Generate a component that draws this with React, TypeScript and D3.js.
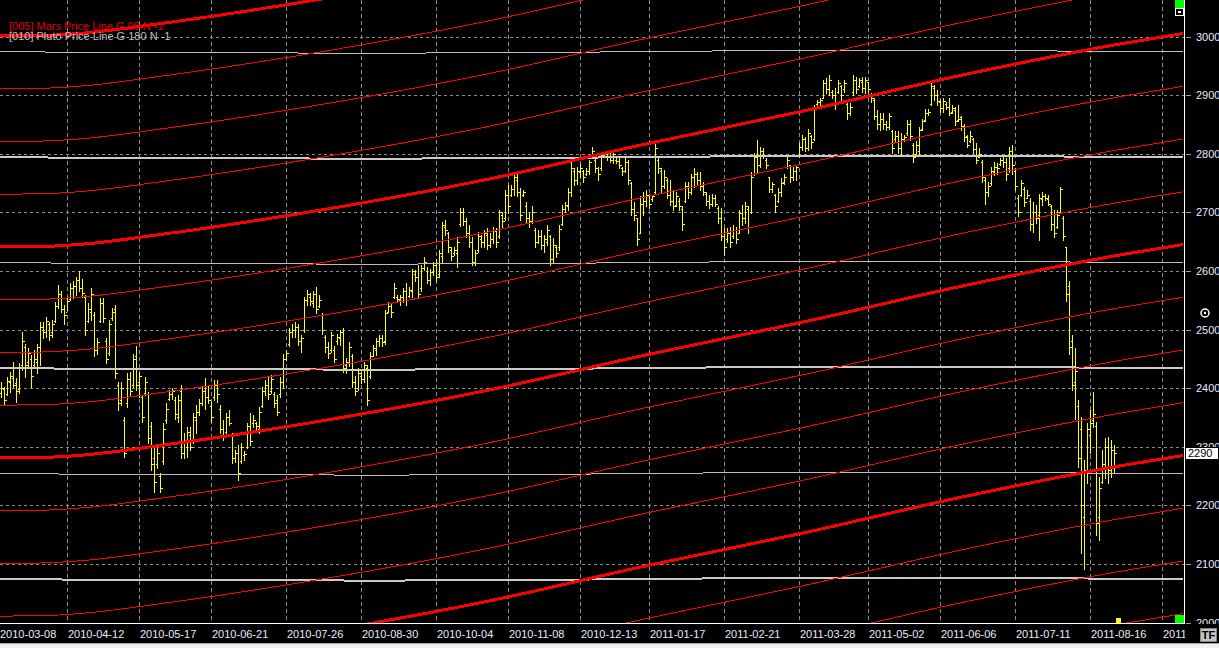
import * as d3 from 'd3'

// bar data, one value per trading day, starting at bar index FIRST_BAR
const FIRST_BAR = 2

const HIGH = [
  2411, 2402, 2419, 2428, 2445, 2417, 2442, 2496, 2476, 2468,
  2456, 2465, 2476, 2513, 2513, 2522, 2513, 2516, 2547, 2576,
  2565, 2542, 2553, 2579, 2582, 2590, 2599, 2587, 2559, 2545,
  2570, 2530, 2485, 2553, 2553, 2485, 2516, 2536, 2542, 2411,
  2411, 2351, 2425, 2428, 2459, 2471, 2428, 2388, 2419, 2394,
  2343, 2297, 2297, 2255, 2340, 2374, 2397, 2400, 2385, 2388,
  2405, 2323, 2334, 2334, 2357, 2371, 2382, 2402, 2417, 2405,
  2377, 2414, 2414, 2371, 2346, 2357, 2363, 2323, 2294, 2303,
  2306, 2292, 2340, 2357, 2354, 2343, 2368, 2402, 2414, 2419,
  2422, 2394, 2388, 2419, 2459, 2465, 2502, 2510, 2513, 2510,
  2491, 2556, 2567, 2562, 2565, 2573, 2559, 2528, 2491, 2479,
  2496, 2471, 2493, 2499, 2502, 2451, 2479, 2459, 2420, 2434,
  2428, 2445, 2439, 2462, 2474, 2485, 2491, 2491, 2533, 2547,
  2545, 2579, 2559, 2559, 2570, 2579, 2573, 2604, 2602, 2610,
  2610, 2624, 2607, 2604, 2616, 2621, 2636, 2684, 2687, 2667,
  2641, 2641, 2658, 2707, 2707, 2690, 2678, 2658, 2636, 2667,
  2661, 2670, 2673, 2664, 2675, 2673, 2704, 2701, 2738, 2746,
  2746, 2766, 2766, 2741, 2738, 2718, 2698, 2710, 2673, 2670,
  2670, 2661, 2678, 2661, 2656, 2644, 2678, 2712, 2718, 2741,
  2786, 2775, 2778, 2783, 2772, 2775, 2789, 2812, 2792, 2778,
  2803, 2803, 2803, 2801, 2806, 2792, 2795, 2778, 2792, 2789,
  2752, 2718, 2690, 2727, 2735, 2738, 2732, 2729, 2821, 2792,
  2775, 2772, 2758, 2755, 2738, 2735, 2724, 2710, 2752, 2752,
  2766, 2775, 2769, 2769, 2752, 2735, 2729, 2732, 2729, 2710,
  2707, 2673, 2673, 2675, 2678, 2675, 2704, 2712, 2718, 2710,
  2769, 2801, 2823, 2812, 2809, 2792, 2761, 2752, 2732, 2741,
  2758, 2766, 2795, 2781, 2778, 2781, 2818, 2832, 2829, 2843,
  2832, 2883, 2892, 2895, 2926, 2929, 2934, 2909, 2912, 2926,
  2917, 2926, 2889, 2886, 2934, 2931, 2929, 2931, 2931, 2923,
  2903, 2895, 2875, 2869, 2869, 2855, 2869, 2840, 2838, 2838,
  2835, 2832, 2858, 2858, 2818, 2821, 2846, 2860, 2877, 2877,
  2920, 2917, 2909, 2892, 2895, 2889, 2895, 2883, 2880, 2883,
  2865, 2850, 2832, 2838, 2826, 2818, 2809, 2789, 2761, 2752,
  2778, 2786, 2784, 2792, 2795, 2792, 2812, 2815, 2775, 2730,
  2755, 2744, 2738, 2724, 2718, 2712, 2732, 2735, 2732, 2729,
  2712, 2704, 2704, 2744, 2693, 2641, 2582, 2491, 2468, 2380,
  2351, 2277, 2340, 2362, 2394, 2343, 2249, 2294, 2314, 2317,
  2311, 2303,
]

const LOW = [
  2385, 2371, 2388, 2394, 2402, 2377, 2391, 2431, 2419, 2434,
  2402, 2437, 2425, 2439, 2485, 2488, 2482, 2488, 2513, 2536,
  2530, 2510, 2533, 2550, 2553, 2559, 2565, 2556, 2491, 2513,
  2516, 2454, 2459, 2513, 2513, 2442, 2456, 2516, 2417, 2363,
  2371, 2283, 2368, 2388, 2402, 2397, 2385, 2343, 2388, 2306,
  2260, 2223, 2263, 2223, 2271, 2340, 2380, 2382, 2348, 2343,
  2280, 2280, 2283, 2294, 2306, 2323, 2354, 2371, 2365, 2374,
  2343, 2380, 2377, 2323, 2311, 2323, 2337, 2272, 2274, 2243,
  2272, 2277, 2297, 2303, 2334, 2328, 2323, 2368, 2388, 2382,
  2391, 2368, 2354, 2385, 2400, 2448, 2471, 2488, 2488, 2474,
  2462, 2496, 2542, 2542, 2539, 2528, 2539, 2493, 2462, 2451,
  2462, 2445, 2476, 2474, 2428, 2425, 2437, 2402, 2388, 2397,
  2408, 2411, 2371, 2417, 2454, 2457, 2471, 2471, 2476, 2530,
  2522, 2553, 2547, 2542, 2547, 2542, 2556, 2556, 2582, 2553,
  2565, 2602, 2579, 2576, 2593, 2582, 2590, 2616, 2661, 2633,
  2619, 2627, 2607, 2676, 2678, 2658, 2641, 2610, 2610, 2633,
  2640, 2641, 2638, 2641, 2647, 2641, 2656, 2675, 2687, 2698,
  2727, 2729, 2727, 2687, 2727, 2684, 2675, 2681, 2641, 2647,
  2638, 2633, 2644, 2610, 2616, 2624, 2636, 2678, 2701, 2704,
  2727, 2746, 2749, 2761, 2752, 2764, 2766, 2792, 2769, 2755,
  2772, 2795, 2789, 2786, 2784, 2784, 2775, 2764, 2769, 2749,
  2695, 2687, 2644, 2664, 2695, 2710, 2707, 2720, 2732, 2767,
  2735, 2741, 2724, 2712, 2704, 2710, 2704, 2670, 2718, 2724,
  2732, 2744, 2749, 2738, 2729, 2712, 2707, 2710, 2710, 2681,
  2653, 2627, 2650, 2641, 2656, 2647, 2664, 2678, 2681, 2664,
  2698, 2764, 2769, 2778, 2792, 2775, 2735, 2735, 2701, 2718,
  2727, 2749, 2775, 2752, 2755, 2755, 2795, 2806, 2804, 2806,
  2809, 2823, 2883, 2883, 2895, 2903, 2900, 2895, 2877, 2903,
  2892, 2906, 2860, 2866, 2900, 2903, 2914, 2906, 2903, 2906,
  2889, 2860, 2843, 2840, 2843, 2840, 2843, 2801, 2821, 2801,
  2798, 2821, 2832, 2823, 2786, 2798, 2798, 2840, 2855, 2866,
  2883, 2892, 2883, 2872, 2872, 2877, 2866, 2869, 2849, 2855,
  2840, 2822, 2812, 2820, 2801, 2784, 2795, 2752, 2715, 2727,
  2747, 2764, 2766, 2781, 2778, 2755, 2769, 2766, 2738, 2693,
  2727, 2710, 2724, 2670, 2667, 2681, 2653, 2712, 2721, 2712,
  2670, 2658, 2673, 2698, 2653, 2548, 2459, 2397, 2348, 2266,
  2118, 2092, 2238, 2289, 2334, 2149, 2141, 2238, 2246, 2238,
  2249, 2257,
]

const OPEN = [
  2392, 2398, 2390, 2410, 2418, 2408, 2398, 2440, 2470, 2445,
  2450, 2440, 2445, 2470, 2500, 2495, 2510, 2495, 2515, 2540,
  2560, 2535, 2530, 2552, 2570, 2575, 2585, 2570, 2555, 2515,
  2530, 2525, 2465, 2515, 2545, 2480, 2460, 2520, 2535, 2405,
  2380, 2345, 2375, 2415, 2405, 2455, 2410, 2385, 2392, 2390,
  2335, 2280, 2270, 2250, 2275, 2345, 2382, 2390, 2380, 2350,
  2395, 2290, 2300, 2320, 2310, 2345, 2360, 2375, 2395, 2385,
  2370, 2385, 2405, 2365, 2330, 2325, 2350, 2320, 2280, 2290,
  2275, 2285, 2300, 2335, 2340, 2340, 2330, 2370, 2395, 2405,
  2395, 2390, 2380, 2390, 2410, 2450, 2475, 2495, 2500, 2505,
  2480, 2500, 2550, 2555, 2545, 2560, 2540, 2525, 2488, 2470,
  2465, 2465, 2480, 2485, 2495, 2440, 2445, 2455, 2410, 2400,
  2420, 2415, 2435, 2420, 2455, 2465, 2480, 2485, 2480, 2530,
  2540, 2555, 2555, 2550, 2555, 2565, 2558, 2565, 2595, 2590,
  2570, 2605, 2600, 2585, 2598, 2610, 2595, 2625, 2675, 2665,
  2635, 2630, 2630, 2680, 2700, 2685, 2665, 2650, 2615, 2635,
  2655, 2650, 2662, 2645, 2655, 2668, 2660, 2695, 2690, 2730,
  2730, 2740, 2755, 2735, 2730, 2710, 2690, 2685, 2670, 2650,
  2660, 2645, 2650, 2660, 2620, 2640, 2640, 2680, 2705, 2710,
  2735, 2770, 2755, 2768, 2770, 2765, 2770, 2795, 2790, 2775,
  2775, 2798, 2800, 2795, 2790, 2790, 2788, 2775, 2770, 2785,
  2750, 2705, 2690, 2665, 2715, 2720, 2728, 2722, 2735, 2790,
  2770, 2745, 2755, 2730, 2720, 2712, 2720, 2705, 2720, 2745,
  2735, 2760, 2765, 2755, 2745, 2732, 2720, 2715, 2725, 2708,
  2690, 2660, 2655, 2665, 2660, 2670, 2665, 2698, 2690, 2705,
  2700, 2765, 2795, 2780, 2805, 2790, 2760, 2740, 2730, 2720,
  2735, 2752, 2778, 2780, 2760, 2770, 2798, 2812, 2825, 2810,
  2830, 2825, 2885, 2888, 2895, 2920, 2910, 2905, 2900, 2905,
  2915, 2910, 2885, 2870, 2905, 2925, 2915, 2922, 2912, 2922,
  2900, 2892, 2865, 2850, 2860, 2850, 2845, 2838, 2825, 2830,
  2810, 2825, 2835, 2850, 2815, 2800, 2805, 2842, 2858, 2870,
  2885, 2912, 2900, 2888, 2878, 2885, 2880, 2872, 2875, 2858,
  2862, 2845, 2830, 2822, 2825, 2808, 2795, 2785, 2755, 2735,
  2750, 2768, 2778, 2782, 2790, 2785, 2775, 2805, 2770, 2725,
  2730, 2740, 2725, 2720, 2680, 2700, 2695, 2722, 2728, 2722,
  2710, 2680, 2675, 2700, 2690, 2640, 2575, 2480, 2410, 2370,
  2330, 2180, 2255, 2320, 2345, 2335, 2180, 2240, 2270, 2300,
  2260, 2295,
]

const CLOSE = [
  2400, 2380, 2412, 2420, 2405, 2395, 2436, 2480, 2440, 2460,
  2420, 2450, 2470, 2505, 2495, 2515, 2490, 2510, 2540, 2560,
  2535, 2525, 2548, 2570, 2575, 2585, 2570, 2562, 2500, 2535,
  2560, 2465, 2478, 2545, 2520, 2450, 2510, 2530, 2425, 2375,
  2400, 2290, 2415, 2395, 2450, 2405, 2420, 2350, 2410, 2315,
  2270, 2240, 2290, 2230, 2330, 2365, 2390, 2395, 2355, 2380,
  2290, 2310, 2325, 2300, 2350, 2360, 2375, 2395, 2385, 2380,
  2350, 2405, 2390, 2330, 2320, 2350, 2340, 2280, 2290, 2255,
  2300, 2288, 2335, 2310, 2345, 2335, 2360, 2395, 2405, 2390,
  2415, 2375, 2360, 2410, 2450, 2460, 2495, 2500, 2505, 2480,
  2485, 2550, 2560, 2548, 2560, 2535, 2550, 2500, 2470, 2460,
  2490, 2450, 2488, 2495, 2435, 2445, 2470, 2410, 2395, 2425,
  2415, 2440, 2380, 2455, 2468, 2480, 2485, 2478, 2528, 2540,
  2530, 2570, 2552, 2555, 2565, 2550, 2568, 2600, 2590, 2560,
  2605, 2615, 2585, 2598, 2610, 2590, 2630, 2678, 2670, 2640,
  2625, 2635, 2650, 2700, 2685, 2665, 2650, 2615, 2630, 2660,
  2650, 2665, 2645, 2655, 2670, 2650, 2700, 2685, 2730, 2710,
  2740, 2760, 2735, 2695, 2735, 2690, 2685, 2700, 2650, 2660,
  2645, 2655, 2670, 2620, 2645, 2630, 2672, 2705, 2712, 2735,
  2775, 2755, 2770, 2775, 2760, 2770, 2785, 2805, 2775, 2765,
  2798, 2800, 2795, 2790, 2800, 2788, 2780, 2770, 2785, 2755,
  2705, 2695, 2655, 2715, 2720, 2730, 2715, 2727, 2810, 2775,
  2745, 2760, 2730, 2720, 2710, 2728, 2710, 2680, 2745, 2735,
  2760, 2765, 2755, 2745, 2735, 2720, 2715, 2725, 2715, 2690,
  2660, 2640, 2665, 2650, 2670, 2655, 2698, 2690, 2710, 2675,
  2760, 2795, 2780, 2805, 2798, 2780, 2740, 2748, 2710, 2735,
  2750, 2760, 2790, 2760, 2770, 2778, 2812, 2825, 2810, 2835,
  2820, 2878, 2888, 2892, 2920, 2910, 2925, 2900, 2885, 2920,
  2900, 2920, 2870, 2880, 2925, 2910, 2925, 2912, 2925, 2910,
  2895, 2865, 2850, 2860, 2850, 2845, 2865, 2810, 2830, 2810,
  2825, 2828, 2850, 2830, 2795, 2815, 2840, 2855, 2870, 2872,
  2915, 2900, 2890, 2878, 2890, 2880, 2870, 2878, 2855, 2860,
  2848, 2828, 2815, 2830, 2808, 2790, 2800, 2760, 2735, 2745,
  2770, 2778, 2775, 2790, 2785, 2765, 2805, 2780, 2745, 2700,
  2750, 2718, 2730, 2680, 2700, 2690, 2725, 2728, 2725, 2715,
  2680, 2665, 2695, 2740, 2660, 2560, 2470, 2405, 2430, 2280,
  2200, 2260, 2330, 2340, 2355, 2170, 2230, 2270, 2300, 2260,
  2295, 2290,
]

const LAST_PRICE = 2290

// date axis: labels and the bar index each gridline sits on
const TICK_LABELS = [
  '2010-03-08', '2010-04-12', '2010-05-17', '2010-06-21', '2010-07-26', '2010-08-30',
  '2010-10-04', '2010-11-08', '2010-12-13', '2011-01-17', '2011-02-21', '2011-03-28',
  '2011-05-02', '2011-06-06', '2011-07-11', '2011-08-16', '2011-',
]
const TICK_IDX = [0, 24, 48, 72, 97, 122, 147, 171, 195, 218, 243, 268, 291, 315, 340, 365, 389]

const PRICE_TICKS = [2000, 2100, 2200, 2300, 2400, 2500, 2600, 2700, 2800, 2900, 3000]

// Mars price line (base harmonic), read at a few bar indices
const MARS_IDX = [0, 15, 30, 55, 110, 163, 217, 270, 323, 377, 396]
const MARS_PRICE = [2640.8, 2641.5, 2646, 2662, 2705, 2755, 2816.6, 2873.4, 2934.8, 2989, 3005]
const MARS_STEP = 90
const MARS_HARMONICS = [-11, -10, -9, -8, -7, -6, -5, -4, -3, -2, -1, 0, 1, 2, 3, 4]

// Pluto price line (base harmonic)
const PLUTO_IDX = [0, 60, 130, 190, 245, 280, 340, 396]
const PLUTO_PRICE = [2974, 2972.3, 2971.5, 2973, 2975.5, 2976.3, 2975.5, 2974.5]
const PLUTO_STEP = 180
const PLUTO_HARMONICS = [0, -1, -2, -3, -4, -5]

const FONT = '"Liberation Sans", Arial, sans-serif'

export default function App() {
  const W = 1219
  const H = 648
  const plotR = 1184
  const plotB = 623

  const x = d3.scaleLinear().domain([0, 389]).range([-5, 1162])
  const y = d3.scaleLinear().domain([2000, 3000]).range([622.5, 36.5])

  const mkLine = (idx: number[]) =>
    d3.line<number>()
      .x((_, j) => x(idx[j]))
      .y((p) => y(p))
      .curve(d3.curveMonotoneX)

  const marsLine = mkLine(MARS_IDX)
  const plutoLine = mkLine(PLUTO_IDX)

  const bars = HIGH.map((h, j) => {
    const i = j + FIRST_BAR
    const cx = Math.round(x(i))
    const top = Math.round(y(h))
    const bot = Math.round(y(LOW[j]))
    return (
      <g key={i}>
        <rect x={cx} y={top} width={1} height={Math.max(1, bot - top + 1)} />
        <rect x={cx - 1} y={Math.round(y(OPEN[j]))} width={1} height={1} />
        <rect x={cx + 1} y={Math.round(y(CLOSE[j]))} width={2} height={1} />
      </g>
    )
  })

  const lastY = y(LAST_PRICE)

  return (
    <svg
      width={W}
      height={H}
      style={{ position: 'fixed', left: 0, top: 0, display: 'block', background: '#000' }}
    >
      <defs>
        <clipPath id="plot">
          <rect x={0} y={0} width={plotR} height={plotB} />
        </clipPath>
      </defs>
      <rect x={0} y={0} width={W} height={H} fill="#000" />

      <g clipPath="url(#plot)" shapeRendering="crispEdges">
        {/* grid */}
        {PRICE_TICKS.map((p) => (
          <line key={p} x1={0} x2={plotR} y1={Math.round(y(p)) + 0.5} y2={Math.round(y(p)) + 0.5}
            stroke="#8a8a8a" strokeDasharray="3,3" />
        ))}
        {TICK_IDX.map((i) => (
          <line key={i} x1={Math.round(x(i)) + 0.5} x2={Math.round(x(i)) + 0.5} y1={0} y2={plotB}
            stroke="#8a8a8a" strokeDasharray="4,3" />
        ))}

        {/* price bars */}
        <g fill="#ffff00">{bars}</g>

        {/* Pluto lines */}
        {PLUTO_HARMONICS.map((k) => (
          <path key={k} d={plutoLine(PLUTO_PRICE.map((p) => p + k * PLUTO_STEP)) || ''}
            fill="none" stroke={k % 2 === 0 ? '#bdbdbd' : '#cacaca'} strokeWidth={k % 2 === 0 ? 1 : 2} />
        ))}

        {/* Mars lines */}
        {MARS_HARMONICS.map((k) => (
          <path key={k} d={marsLine(MARS_PRICE.map((p) => p + k * MARS_STEP)) || ''}
            fill="none" stroke="#ff0000" strokeWidth={k % 4 === 0 ? 3 : 1} />
        ))}
      </g>

      {/* frame */}
      <g shapeRendering="crispEdges">
        <line x1={0} x2={plotR + 1} y1={plotB + 0.5} y2={plotB + 0.5} stroke="#fff" />
        <line x1={plotR + 0.5} x2={plotR + 0.5} y1={0} y2={plotB + 1} stroke="#fff" />
        {PRICE_TICKS.map((p) => (
          <line key={p} x1={1186} x2={1191} y1={Math.round(y(p)) + 0.5} y2={Math.round(y(p)) + 0.5} stroke="#a0a0a0" />
        ))}
        <rect x={1175} y={0} width={9} height={8} fill="#00ff00" />
        <rect x={1175.5} y={8.5} width={8} height={7} fill="#000" stroke="#ffffff" />
        <rect x={1178} y={11} width={3} height={2} fill="#ffffff" />
        <rect x={1175} y={615} width={9} height={8} fill="#00ff00" />
        <rect x={1116} y={618} width={5} height={5} fill="#ffff00" />
      </g>

      {/* price axis labels */}
      <g fontFamily={FONT} fontSize={11} fill="#e4ecff">
        {PRICE_TICKS.map((p) => (
          <text key={p} x={1196} y={y(p) + 4}>{p}</text>
        ))}
      </g>

      {/* last price */}
      <rect x={1185.5} y={Math.round(lastY) - 5.5} width={33} height={12} fill="#fff" stroke="#000" shapeRendering="crispEdges" />
      <text x={1188} y={lastY + 4.5} fontFamily={FONT} fontSize={11} fill="#000">{LAST_PRICE}</text>

      {/* circle marker */}
      <circle cx={1205} cy={313} r={4} fill="#000" stroke="#fff" strokeWidth={1.5} />
      <circle cx={1205} cy={313} r={1.2} fill="#fff" />

      {/* date labels */}
      <g fontFamily={FONT} fontSize={11} fill="#e4ecff">
        {TICK_IDX.map((i, j) => (
          <text key={i} x={Math.max(0, Math.round(x(i)) + 1)} y={637.5}>{TICK_LABELS[j]}</text>
        ))}
      </g>
      <rect x={plotR + 1} y={624} width={W - plotR} height={20} fill="#000" />
      <rect x={1200.5} y={628.5} width={16} height={13} fill="#c4c4c4" stroke="#808080" shapeRendering="crispEdges" />
      <text x={1208.5} y={639} textAnchor="middle" fontFamily={FONT} fontSize={11} fontWeight="bold" fill="#000">TF</text>

      {/* window strip */}
      <rect x={0} y={643} width={W} height={5} fill="#f0f0f0" />
      <line x1={0} x2={W} y1={643.5} y2={643.5} stroke="#a0a0a0" shapeRendering="crispEdges" />

      {/* legend */}
      <g fontFamily={FONT} fontSize={11}>
        <text x={9} y={30} fill="#e00000">[005] Mars Price Line G 90 N -1</text>
        <text x={9} y={40} fill="#c0c0c0">[010] Pluto Price Line G 180 N -1</text>
      </g>
    </svg>
  )
}
